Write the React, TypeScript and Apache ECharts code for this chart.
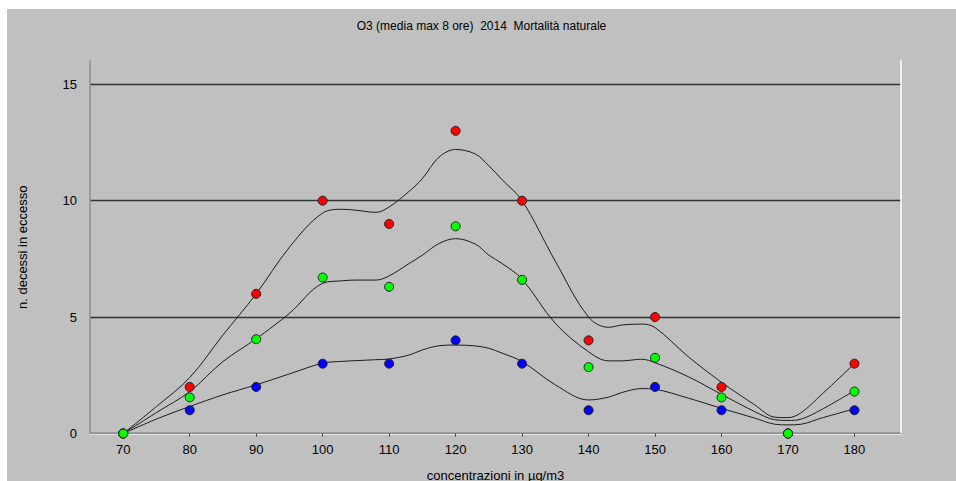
import React, { useEffect, useRef } from "react";
import * as echarts from "echarts";

// Observed points (concentration µg/m3 -> n. excess deaths)
const concentrations = [70, 80, 90, 100, 110, 120, 130, 140, 150, 160, 170, 180];
const redValues = [0, 2, 6, 10, 9, 13, 10, 4, 5, 2, 0, 3];
const greenValues = [0, 1.55, 4.05, 6.7, 6.3, 8.9, 6.6, 2.85, 3.25, 1.55, 0, 1.8];
const blueValues = [0, 1, 2, 3, 3, 4, 3, 1, 2, 1, 0, 1];

// Smoothed curves
const curveX = [70, 75, 80, 85, 90, 95, 100, 103, 105, 108, 110, 113, 115, 117.5, 120, 123, 125, 127, 130, 135, 140, 143, 145, 148, 150, 155, 160, 165, 168, 170, 172, 175, 180];
const redCurve = [0, 1.16, 2.4, 4.23, 6.0, 8.0, 9.47, 9.63, 9.59, 9.5, 9.73, 10.4, 10.95, 11.87, 12.2, 12.0, 11.5, 10.9, 10.0, 7.4, 5.0, 4.56, 4.66, 4.7, 4.55, 3.3, 2.2, 1.23, 0.7, 0.68, 0.9, 1.66, 3.0];
const greenCurve = [0, 0.9, 1.8, 3.09, 4.07, 5.16, 6.45, 6.56, 6.59, 6.59, 6.77, 7.3, 7.66, 8.16, 8.37, 8.13, 7.66, 7.3, 6.63, 4.73, 3.51, 3.12, 3.12, 3.19, 3.04, 2.44, 1.68, 0.94, 0.59, 0.56, 0.62, 1.02, 1.84];
const blueCurve = [0, 0.62, 1.16, 1.66, 2.09, 2.56, 3.02, 3.1, 3.13, 3.17, 3.2, 3.37, 3.59, 3.77, 3.8, 3.76, 3.66, 3.45, 3.09, 2.09, 1.44, 1.56, 1.76, 1.93, 1.9, 1.52, 1.08, 0.66, 0.4, 0.37, 0.4, 0.66, 1.06];

const xTicks = [70, 80, 90, 100, 110, 120, 130, 140, 150, 160, 170, 180];
const yTicks = [0, 5, 10, 15];

const titleText = "O3 (media max 8 ore)  2014  Mortalità naturale";
const xName = "concentrazioni in µg/m3";
const yName = "n. decessi in eccesso";

const FONT = "'Liberation Sans', Arial, sans-serif";

export default function App() {
  const ref = useRef<HTMLDivElement>(null);
  useEffect(() => {
    if (!ref.current) return;
    const chart = echarts.init(ref.current, undefined, { renderer: "svg" });
    const pairs = (xs: number[], ys: number[]) => xs.map((x, i) => [x, ys[i]]);
    const curve = (name: string, ys: number[]) => ({
      name,
      type: "line",
      data: pairs(curveX, ys),
      smooth: 0.35,
      showSymbol: false,
      symbol: "none",
      lineStyle: { color: "#1c1c1c", width: 1 },
      z: 3,
    });
    const dots = (name: string, ys: number[], color: string, z: number) => ({
      name,
      type: "scatter",
      data: pairs(concentrations, ys),
      symbol: "circle",
      symbolSize: 9,
      clip: true,
      itemStyle: { color, borderColor: "#202020", borderWidth: 1, opacity: 1 },
      z,
    });
    chart.setOption({
      animation: false,
      backgroundColor: "#C0C0C0",
      textStyle: { fontFamily: FONT },
      title: {
        text: titleText,
        left: "center",
        top: 6,
        textStyle: { fontSize: 12, fontWeight: "normal", color: "#000", fontFamily: FONT },
      },
      grid: { left: 83, right: 55, top: 52, bottom: 47.5, show: false, outerBoundsMode: "none", containLabel: false },
      xAxis: [
        {
          type: "value",
          min: 65,
          max: 187,
          name: xName,
          nameLocation: "middle",
          nameGap: 35,
          nameTextStyle: { fontSize: 13, color: "#000", fontFamily: FONT },
          axisLine: { show: true, lineStyle: { color: "#ffffff", width: 1.5 } },
          axisTick: { show: true, customValues: xTicks, length: 3, lineStyle: { color: "#404040" } },
          axisLabel: { customValues: xTicks, fontSize: 13, color: "#000", margin: 9, fontFamily: FONT },
          splitLine: { show: false },
        },
        {
          type: "value",
          position: "top",
          min: 65,
          max: 187,
          axisLine: { show: true, lineStyle: { color: "#8e8e8e", width: 1 } },
          axisTick: { show: false },
          axisLabel: { show: false },
          splitLine: { show: false },
        },
      ],
      yAxis: [
        {
          type: "value",
          min: 0,
          max: 16,
          name: yName,
          nameLocation: "middle",
          nameGap: 61,
          nameTextStyle: { fontSize: 13, color: "#000", fontFamily: FONT },
          axisLine: { show: true, lineStyle: { color: "#8e8e8e", width: 1.5 } },
          axisTick: { show: false, customValues: yTicks },
          axisLabel: { customValues: yTicks, fontSize: 13, color: "#000", margin: 13, fontFamily: FONT },
          splitLine: { show: true, lineStyle: { color: "#333333", width: 1.3 } },
        },
        {
          type: "value",
          position: "right",
          min: 0,
          max: 16,
          axisLine: { show: true, lineStyle: { color: "#ffffff", width: 1.5 } },
          axisTick: { show: false },
          axisLabel: { show: false },
          splitLine: { show: false },
        },
      ],
      series: [
        curve("curva alta", redCurve),
        curve("curva centrale", greenCurve),
        curve("curva bassa", blueCurve),
        dots("rosso", redValues, "#ff0000", 5),
        dots("blu", blueValues, "#0000ff", 6),
        dots("verde", greenValues, "#00ff00", 7),
      ],
    });
    return () => chart.dispose();
  }, []);
  return (
    <div style={{ position: "fixed", left: 0, top: 0, width: 956, height: 481, background: "#ffffff" }}>
      <div ref={ref} style={{ position: "absolute", left: 7, top: 9, width: 949, height: 472 }} />
    </div>
  );
}
